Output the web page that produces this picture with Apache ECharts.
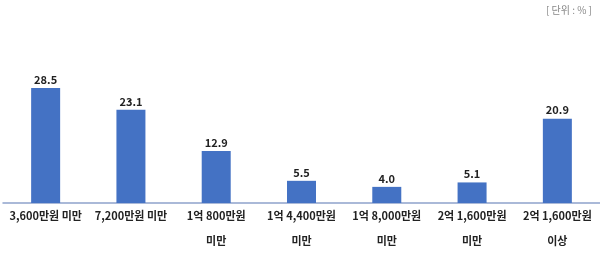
<!DOCTYPE html>
<html><head><meta charset="utf-8">
<script src="https://cdn.jsdelivr.net/npm/echarts@6/dist/echarts.min.js"></script>
<style>html,body{margin:0;padding:0;background:#fff}#c{width:600px;height:254px}</style>
</head><body><div id="c"></div>
<script>
const categories = ["3,600만원 미만","7,200만원 미만","1억 800만원\n미만","1억 4,400만원\n미만","1억 8,000만원\n미만","2억 1,600만원\n미만","2억 1,600만원\n이상"];
const values = [28.5, 23.1, 12.9, 5.5, 4.0, 5.1, 20.9];
const unitText = "[ 단위 : % ]";
const font = "'Noto Sans CJK KR', sans-serif";
const chart = echarts.init(document.getElementById('c'));
chart.setOption({
  animation:false,
  graphic:[{type:'text', right:8, top:5, style:{text:unitText, fill:'#888', font:'10px '+font}}],
  grid:{left:3, right:0, top:82, bottom:51, containLabel:false, outerBoundsMode:'none'},
  xAxis:{type:'category', data:categories,
    axisLine:{lineStyle:{color:'#8FA3CC', width:1.5}}, axisTick:{show:false},
    axisLabel:{interval:0, margin:0, color:'#222', fontWeight:'bold', fontSize:11, fontFamily:font, lineHeight:25}},
  yAxis:{type:'value', min:0, max:30, show:false, splitLine:{show:false}},
  series:[{type:'bar', data:values, barWidth:29, itemStyle:{color:'#4472C4'},
    label:{show:true, position:'top', distance:3, color:'#222', fontWeight:'bold', fontSize:11, fontFamily:font,
      formatter:p=>p.value.toFixed(1)}}]
});
</script></body></html>
